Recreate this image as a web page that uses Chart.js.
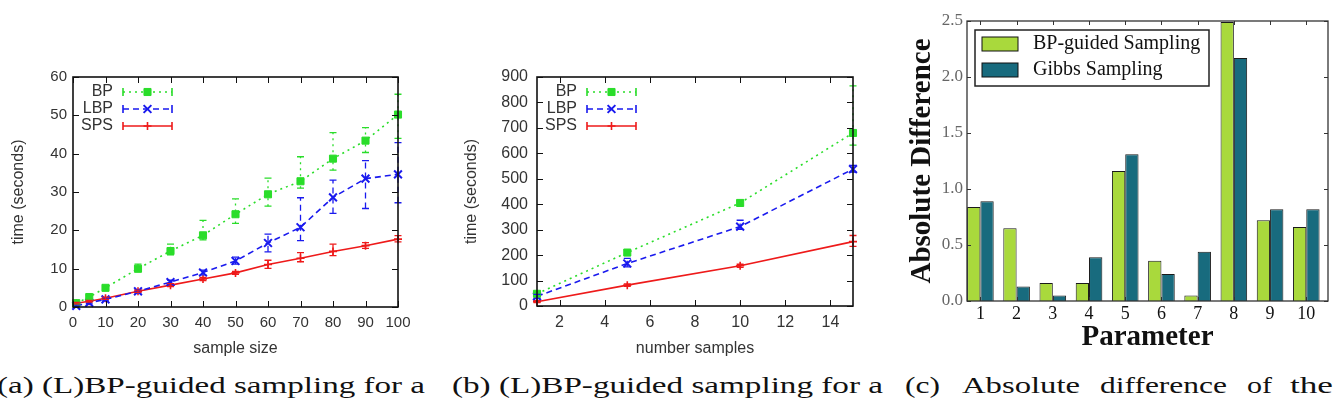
<!DOCTYPE html>
<html>
<head>
<meta charset="utf-8">
<script src="https://cdn.jsdelivr.net/npm/chart.js@4.4.1/dist/chart.umd.min.js"></script>
<style>
html,body{margin:0;padding:0;background:#fff;width:1336px;height:400px;overflow:hidden;}
.box{position:absolute;top:0;height:360px;}
#boxA{left:0;width:440px;}
#boxB{left:440px;width:460px;}
#boxC{left:900px;width:436px;}
#cap{position:absolute;left:0;top:360px;}
</style>
</head>
<body>
<div class="box" id="boxA"><canvas id="chartA"></canvas></div>
<div class="box" id="boxB"><canvas id="chartB"></canvas></div>
<div class="box" id="boxC"><canvas id="chartC"></canvas></div>
<svg id="cap" width="1336" height="40" xmlns="http://www.w3.org/2000/svg"></svg>
<script>
// ---------------- data: panel (a) ----------------
const sampleSize = [1, 5, 10, 20, 30, 40, 50, 60, 70, 80, 90, 100];
const bpTimeA   = [1.0, 2.6, 5.0, 10.0, 14.6, 18.7, 24.2, 29.4, 32.8, 38.7, 43.4, 50.2];
const bpLowA    = [0.7, 2.1, 4.4, 9.2, 13.6, 17.5, 21.8, 26.3, 31.0, 35.7, 40.3, 44.0];
const bpHighA   = [1.3, 3.1, 5.6, 11.2, 16.4, 22.6, 28.2, 33.6, 39.2, 45.5, 46.8, 55.5];
const lbpTimeA  = [0.3, 1.1, 2.0, 4.1, 6.5, 9.0, 12.0, 16.7, 20.8, 28.6, 33.5, 34.6];
const lbpLowA   = [0.1, 0.8, 1.6, 3.7, 6.0, 8.4, 11.2, 14.4, 17.3, 24.4, 25.7, 27.2];
const lbpHighA  = [0.5, 1.4, 2.4, 4.5, 7.0, 9.6, 13.0, 19.0, 28.5, 33.1, 38.2, 42.9];
const spsTimeA  = [1.0, 1.5, 2.3, 4.1, 5.7, 7.3, 8.9, 11.1, 12.7, 14.5, 16.0, 17.7];
const spsLowA   = [0.8, 1.3, 2.0, 3.8, 5.3, 6.9, 8.5, 10.1, 11.8, 13.4, 15.3, 17.0];
const spsHighA  = [1.2, 1.7, 2.6, 4.4, 6.1, 7.7, 9.3, 12.2, 14.2, 16.4, 16.8, 18.6];
const ticksAX = [0, 10, 20, 30, 40, 50, 60, 70, 80, 90, 100];
const ticksAY = [0, 10, 20, 30, 40, 50, 60];

// ---------------- data: panel (b) ----------------
const numSamples = [1, 5, 10, 15];
const bpTimeB   = [48, 210, 405, 680];
const bpLowB    = [40, 200, 395, 632];
const bpHighB   = [56, 220, 415, 865];
const lbpTimeB  = [38, 167, 312, 538];
const lbpLowB   = [30, 154, 301, 526];
const lbpHighB  = [46, 187, 337, 553];
const spsTimeB  = [17, 82, 158, 253];
const spsLowB   = [13, 77, 152, 234];
const spsHighB  = [21, 87, 164, 277];
const ticksBX = [2, 4, 6, 8, 10, 12, 14];
const ticksBY = [0, 100, 200, 300, 400, 500, 600, 700, 800, 900];

// ---------------- data: panel (c) ----------------
const parameters = [1, 2, 3, 4, 5, 6, 7, 8, 9, 10];
const bpGuided = [0.84, 0.65, 0.16, 0.16, 1.16, 0.36, 0.05, 2.49, 0.72, 0.66];
const gibbs    = [0.89, 0.13, 0.05, 0.39, 1.31, 0.24, 0.44, 2.17, 0.82, 0.82];
const ticksCY = [0, 0.5, 1.0, 1.5, 2.0, 2.5];

// ---------------- text ----------------
const seriesNames = ['BP', 'LBP', 'SPS'];
const barNames = ['BP-guided Sampling', 'Gibbs Sampling'];
const axisTitles = { aX: 'sample size', aY: 'time (seconds)', bX: 'number samples', bY: 'time (seconds)', cX: 'Parameter', cY: 'Absolute Difference' };
const captionA = '(a) (L)BP-guided sampling for a';
const captionB = '(b) (L)BP-guided sampling for a';
const captionCWords = ['(c)', 'Absolute', 'difference', 'of', 'the'];

// ---------------- helpers / plugins ----------------
const SANS = "'Liberation Sans', Arial, sans-serif";
const SERIF = "'Liberation Serif', 'Times New Roman', serif";

function marker(ctx, style, x, y, r, color, bw) {
  ctx.save();
  ctx.setLineDash([]);
  ctx.strokeStyle = color; ctx.fillStyle = color; ctx.lineWidth = bw;
  ctx.beginPath();
  if (style === 'rect') {
    const s = r * Math.SQRT1_2;
    ctx.rect(x - s, y - s, 2 * s, 2 * s); ctx.fill(); ctx.stroke();
  } else if (style === 'crossRot') {
    const s = r * Math.SQRT1_2;
    ctx.moveTo(x - s, y - s); ctx.lineTo(x + s, y + s);
    ctx.moveTo(x - s, y + s); ctx.lineTo(x + s, y - s); ctx.stroke();
  } else {
    ctx.moveTo(x - r, y); ctx.lineTo(x + r, y);
    ctx.moveTo(x, y - r); ctx.lineTo(x, y + r); ctx.stroke();
  }
  ctx.restore();
}

const framePlugin = {
  id: 'frame',
  afterDraw(chart, args, o) {
    const { ctx, chartArea: a } = chart;
    const xs = chart.scales.x, ys = chart.scales.y;
    ctx.save();
    ctx.strokeStyle = o.tickColor; ctx.lineWidth = o.tickWidth;
    const L = o.tickLen;
    ctx.beginPath();
    xs.ticks.forEach(t => {
      const p = Math.round(xs.getPixelForValue(t.value)) + 0.5;
      ctx.moveTo(p, a.bottom); ctx.lineTo(p, a.bottom - L);
      ctx.moveTo(p, a.top); ctx.lineTo(p, a.top + L);
    });
    ys.ticks.forEach(t => {
      const p = Math.round(ys.getPixelForValue(t.value)) + 0.5;
      ctx.moveTo(a.left, p); ctx.lineTo(a.left + L, p);
      ctx.moveTo(a.right, p); ctx.lineTo(a.right - L, p);
    });
    ctx.stroke();
    ctx.strokeStyle = o.color; ctx.lineWidth = o.width;
    ctx.strokeRect(a.left, a.top, a.right - a.left, a.bottom - a.top);
    ctx.restore();
  }
};

const errorBars = {
  id: 'errorBars',
  afterDatasetsDraw(chart, args, o) {
    const { ctx } = chart;
    const xs = chart.scales.x, ys = chart.scales.y;
    chart.data.datasets.forEach(ds => {
      if (!ds.errLow) return;
      ctx.save();
      ctx.strokeStyle = ds.borderColor; ctx.lineWidth = o.width;
      ds.data.forEach((p, j) => {
        const x = xs.getPixelForValue(p.x);
        const y1 = ys.getPixelForValue(ds.errLow[j]);
        const y2 = ys.getPixelForValue(ds.errHigh[j]);
        ctx.setLineDash(ds.borderDash || []);
        ctx.beginPath(); ctx.moveTo(x, y1); ctx.lineTo(x, y2); ctx.stroke();
        ctx.setLineDash([]);
        ctx.beginPath();
        ctx.moveTo(x - o.cap, y1); ctx.lineTo(x + o.cap, y1);
        ctx.moveTo(x - o.cap, y2); ctx.lineTo(x + o.cap, y2);
        ctx.stroke();
      });
      ctx.restore();
    });
  }
};

const gpLegend = {
  id: 'gpLegend',
  afterDatasetsDraw(chart, args, o) {
    const { ctx, chartArea: a } = chart;
    ctx.save();
    ctx.font = o.font; ctx.fillStyle = o.color;
    ctx.textAlign = 'right'; ctx.textBaseline = 'middle';
    chart.data.datasets.forEach((ds, i) => {
      const y = a.top + o.rows[i];
      ctx.fillText(ds.label, a.left + o.textRight, y);
      const x1 = a.left + o.x1, x2 = a.left + o.x2;
      ctx.strokeStyle = ds.borderColor; ctx.lineWidth = ds.borderWidth;
      ctx.setLineDash(ds.borderDash || []);
      ctx.beginPath(); ctx.moveTo(x1, y); ctx.lineTo(x2, y); ctx.stroke();
      ctx.setLineDash([]);
      ctx.beginPath();
      ctx.moveTo(x1, y - 4); ctx.lineTo(x1, y + 4);
      ctx.moveTo(x2, y - 4); ctx.lineTo(x2, y + 4);
      ctx.stroke();
      marker(ctx, ds.pointStyle, (x1 + x2) / 2, y, ds.pointRadius, ds.borderColor, ds.pointBorderWidth);
    });
    ctx.restore();
  }
};

const mplLegend = {
  id: 'mplLegend',
  afterDraw(chart, args, o) {
    const { ctx, chartArea: a } = chart;
    const bx = a.left + o.x, by = a.top + o.y;
    ctx.save();
    ctx.fillStyle = '#fff';
    ctx.fillRect(bx, by, o.w, o.h);
    ctx.strokeStyle = o.border; ctx.lineWidth = 1.5;
    ctx.strokeRect(bx, by, o.w, o.h);
    ctx.font = o.font; ctx.textAlign = 'left'; ctx.textBaseline = 'middle';
    chart.data.datasets.forEach((ds, i) => {
      const cy = by + o.rows[i];
      ctx.fillStyle = ds.backgroundColor;
      ctx.fillRect(bx + o.swX, cy - o.swH / 2, o.swW, o.swH);
      ctx.strokeStyle = '#111'; ctx.lineWidth = 1;
      ctx.strokeRect(bx + o.swX, cy - o.swH / 2, o.swW, o.swH);
      ctx.fillStyle = o.color;
      ctx.fillText(ds.label, bx + o.textX, cy);
    });
    ctx.restore();
  }
};

function lineSeries(label, xs, ys, lo, hi, style) {
  return Object.assign({
    label: label,
    data: xs.map((x, i) => ({ x: x, y: ys[i] })),
    errLow: lo, errHigh: hi,
    fill: false, tension: 0, clip: false
  }, style);
}

const styleBP  = { borderColor: '#2add2a', backgroundColor: '#2add2a', borderWidth: 1.6, borderDash: [2, 4], pointStyle: 'rect', pointRadius: 5, pointBorderWidth: 1 };
const styleLBP = { borderColor: '#1a1aee', backgroundColor: '#1a1aee', borderWidth: 1.6, borderDash: [6, 4], pointStyle: 'crossRot', pointRadius: 5.5, pointBorderWidth: 2 };
const styleSPS = { borderColor: '#ee1a1a', backgroundColor: '#ee1a1a', borderWidth: 1.6, borderDash: [], pointStyle: 'cross', pointRadius: 4, pointBorderWidth: 1.6 };

function timeChart(canvasId, xVals, sets, cfg) {
  return new Chart(document.getElementById(canvasId), {
    type: 'line',
    data: { datasets: sets },
    options: {
      animation: false, responsive: true, maintainAspectRatio: false,
      layout: { padding: cfg.padding },
      plugins: {
        legend: { display: false }, tooltip: { enabled: false },
        frame: { color: '#111', width: 1.6, tickColor: '#111', tickWidth: 1, tickLen: 6 },
        errorBars: { width: 1.3, cap: 3.5 },
        gpLegend: { font: '16px ' + SANS, color: '#333', rows: [15, 32, 49], textRight: 40, x1: 50, x2: 99 }
      },
      scales: {
        x: {
          type: 'linear', min: cfg.xMin, max: cfg.xMax,
          afterBuildTicks: s => { s.ticks = cfg.xTicks.map(v => ({ value: v })); },
          afterFit: s => { s.height = cfg.xHeight; },
          grid: { display: false, drawTicks: false }, border: { display: false },
          ticks: { autoSkip: false, maxRotation: 0, padding: 7, color: '#333', font: { family: SANS, size: cfg.tickSize }, callback: v => String(v) },
          title: { display: true, text: cfg.xTitle, color: '#333', font: { family: SANS, size: 16 }, padding: { top: 4, bottom: 2 } }
        },
        y: {
          type: 'linear', min: cfg.yMin, max: cfg.yMax,
          afterBuildTicks: s => { s.ticks = cfg.yTicks.map(v => ({ value: v })); },
          afterFit: s => { s.width = cfg.yWidth; },
          grid: { display: false, drawTicks: false }, border: { display: false },
          ticks: { autoSkip: false, padding: cfg.yPad, color: '#333', font: { family: SANS, size: cfg.tickSize }, callback: v => String(v) },
          title: { display: true, text: cfg.yTitle, color: '#333', font: { family: SANS, size: 16 }, padding: { top: 4, bottom: 4 } }
        }
      }
    },
    plugins: [errorBars, gpLegend, framePlugin]
  });
}

// ---------------- panel (a) ----------------
timeChart('chartA', sampleSize, [
  lineSeries(seriesNames[0], sampleSize, bpTimeA, bpLowA, bpHighA, styleBP),
  lineSeries(seriesNames[1], sampleSize, lbpTimeA, lbpLowA, lbpHighA, styleLBP),
  lineSeries(seriesNames[2], sampleSize, spsTimeA, spsLowA, spsHighA, styleSPS)
], {
  padding: { left: 5, top: 77, right: 42, bottom: 0 },
  xMin: 0, xMax: 100, yMin: 0, yMax: 60, xTicks: ticksAX, yTicks: ticksAY,
  xHeight: 53, yWidth: 68, yPad: 6, tickSize: 15,
  xTitle: axisTitles.aX, yTitle: axisTitles.aY
});

// ---------------- panel (b) ----------------
timeChart('chartB', numSamples, [
  lineSeries(seriesNames[0], numSamples, bpTimeB, bpLowB, bpHighB, styleBP),
  lineSeries(seriesNames[1], numSamples, lbpTimeB, lbpLowB, lbpHighB, styleLBP),
  lineSeries(seriesNames[2], numSamples, spsTimeB, spsLowB, spsHighB, styleSPS)
], {
  padding: { left: 18, top: 77, right: 47, bottom: 0 },
  xMin: 1, xMax: 15, yMin: 0, yMax: 900, xTicks: ticksBX, yTicks: ticksBY,
  xHeight: 54, yWidth: 79, yPad: 9, tickSize: 16,
  xTitle: axisTitles.bX, yTitle: axisTitles.bY
});

// ---------------- panel (c) ----------------
new Chart(document.getElementById('chartC'), {
  type: 'bar',
  data: {
    datasets: [
      { label: barNames[0], data: parameters.map((p, i) => ({ x: p, y: bpGuided[i] })), backgroundColor: '#a9d93c', borderColor: '#1a1a1a', borderWidth: 1, categoryPercentage: 0.735, barPercentage: 1 },
      { label: barNames[1], data: parameters.map((p, i) => ({ x: p, y: gibbs[i] })), backgroundColor: '#186b7e', borderColor: '#1a1a1a', borderWidth: 1, categoryPercentage: 0.735, barPercentage: 1 }
    ]
  },
  options: {
    animation: false, responsive: true, maintainAspectRatio: false,
    layout: { padding: { left: 1, top: 21, right: 8, bottom: 5 } },
    plugins: {
      legend: { display: false }, tooltip: { enabled: false },
      frame: { color: '#333', width: 1.3, tickColor: '#333', tickWidth: 1, tickLen: 4 },
      mplLegend: { x: 8, y: 9, w: 234, h: 56, rows: [14, 40], swX: 7, swW: 36, swH: 14, textX: 58, font: '20px ' + SERIF, color: '#111', border: '#222' }
    },
    scales: {
      x: {
        type: 'linear', min: 0.63, max: 10.6, offset: false,
        afterBuildTicks: s => { s.ticks = parameters.map(v => ({ value: v })); },
        afterFit: s => { s.height = 54; },
        grid: { display: false, offset: false, drawTicks: false }, border: { display: false },
        ticks: { autoSkip: false, maxRotation: 0, padding: 2, color: '#111', font: { family: SERIF, size: 18 }, callback: v => String(v) },
        title: { display: true, text: axisTitles.cX, color: '#111', font: { family: SERIF, size: 29, weight: 'bold' }, padding: { top: 0, bottom: 0 } }
      },
      y: {
        type: 'linear', min: 0, max: 2.5,
        afterBuildTicks: s => { s.ticks = ticksCY.map(v => ({ value: v })); },
        afterFit: s => { s.width = 66; },
        grid: { display: false, drawTicks: false }, border: { display: false },
        ticks: { autoSkip: false, padding: 4, color: '#666', font: { family: SERIF, size: 17 }, callback: v => Number(v).toFixed(1) },
        title: { display: true, text: axisTitles.cY, color: '#111', font: { family: SERIF, size: 29, weight: 'bold' }, padding: { top: 4, bottom: 4 } }
      }
    }
  },
  plugins: [framePlugin, mplLegend]
});

// ---------------- captions ----------------
(function () {
  const svg = document.getElementById('cap');
  const NS = 'http://www.w3.org/2000/svg';
  function put(text, x, len) {
    const t = document.createElementNS(NS, 'text');
    t.setAttribute('x', x); t.setAttribute('y', 33);
    t.setAttribute('textLength', len); t.setAttribute('lengthAdjust', 'spacingAndGlyphs');
    t.setAttribute('font-family', 'Liberation Serif, serif'); t.setAttribute('font-size', '24');
    t.setAttribute('fill', '#111');
    t.textContent = text;
    svg.appendChild(t);
  }
  put(captionA, -3, 428);
  put(captionB, 452, 431);
  const wordX = [905, 962, 1100, 1247, 1290];
  const wordW = [35, 118, 127, 25, 43];
  captionCWords.forEach((w, i) => put(w, wordX[i], wordW[i]));
})();
</script>
</body>
</html>
